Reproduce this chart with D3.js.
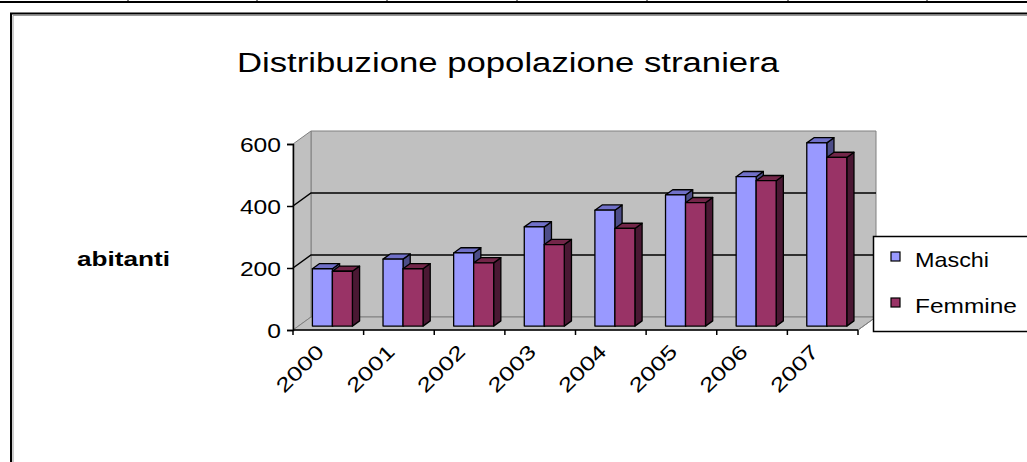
<!DOCTYPE html>
<html>
<head>
<meta charset="utf-8">
<script src="https://cdn.jsdelivr.net/npm/d3@7"></script>
<style>
  body { margin: 0; background: #fff; }
  svg { display: block; font-family: "Liberation Sans", Arial, sans-serif; }
</style>
</head>
<body>
<div class="chart"></div>
<script>
(function() {
    // data
    var years = ["2000", "2001", "2002", "2003", "2004", "2005", "2006", "2007"];
    var maschi = [185, 216, 236, 320, 374, 423, 482, 591];
    var femmine = [177, 185, 204, 263, 315, 398, 469, 544];
    var seriesNames = ["Maschi", "Femmine"];
    var yTicks = [0, 200, 400, 600];
    var cellTicks = [128, 257, 387, 517, 647, 788, 927];

    var width = 1027,
        height = 462;

    // 3D look: depth offset of the walls
    var DX = 18, DY = -13;
    var zFront = 0.3, zBack = 0.7;

    var colors = {
        Maschi:  { front: "#9999ff", top: "#7070c8", side: "#4d4d88" },
        Femmine: { front: "#993366", top: "#732649", side: "#4a1833" }
    };

    var svg = d3.select(".chart").append("svg")
        .attr("width", width)
        .attr("height", height);

    // table lines at the very top
    svg.append("line")
        .attr("x1", 0).attr("x2", width)
        .attr("y1", 2).attr("y2", 2)
        .attr("stroke", "#000").attr("stroke-width", 2);
    svg.selectAll("line.cell")
        .data(cellTicks)
        .enter().append("line")
        .attr("class", "cell")
        .attr("x1", function(d) { return d; })
        .attr("x2", function(d) { return d; })
        .attr("y1", 0).attr("y2", 3)
        .attr("stroke", "#000");

    // chart frame
    svg.append("path")
        .attr("d", "M11,470 L11,13.5 L1040,13.5")
        .attr("fill", "none").attr("stroke", "#000").attr("stroke-width", 2);
    svg.append("path")
        .attr("d", "M13,470 L13,15.5 L1040,15.5")
        .attr("fill", "none").attr("stroke", "#999").attr("stroke-width", 1);

    // title
    svg.append("text")
        .attr("x", 237).attr("y", 72)
        .attr("font-size", 27)
        .attr("textLength", 542)
        .attr("lengthAdjust", "spacingAndGlyphs")
        .text("Distribuzione popolazione straniera");

    // axis title
    svg.append("text")
        .attr("x", 77).attr("y", 266)
        .attr("font-size", 20)
        .attr("font-weight", "bold")
        .attr("textLength", 93)
        .attr("lengthAdjust", "spacingAndGlyphs")
        .text("abitanti");

    // scales (front plane)
    var x = d3.scaleBand()
        .domain(years)
        .range([293, 858]);

    var xInner = d3.scaleBand()
        .domain(seriesNames)
        .range([14, 54]);

    var y = d3.scaleLinear()
        .domain([0, 600])
        .range([330, 144]);

    function P(px, v, z) {
        return [px + z * DX, y(v) + z * DY];
    }
    function poly(pts) {
        return "M" + pts.map(function(p) { return p[0] + "," + p[1]; }).join("L") + "Z";
    }

    var x0 = x.range()[0], x1 = x.range()[1];
    var walls = svg.append("g");

    // back wall
    walls.append("path")
        .attr("d", poly([P(x0, 0, 1), P(x1, 0, 1), P(x1, 600, 1), P(x0, 600, 1)]))
        .attr("fill", "#c0c0c0").attr("stroke", "#808080");
    // side wall
    walls.append("path")
        .attr("d", poly([P(x0, 0, 0), P(x0, 0, 1), P(x0, 600, 1), P(x0, 600, 0)]))
        .attr("fill", "#c0c0c0").attr("stroke", "#808080");
    // floor
    walls.append("path")
        .attr("d", poly([P(x0, 0, 0), P(x1, 0, 0), P(x1, 0, 1), P(x0, 0, 1)]))
        .attr("fill", "#c0c0c0").attr("stroke", "#808080");

    // gridlines
    var grid = yTicks.filter(function(d) { return d > 0 && d < 600; });
    walls.selectAll("path.grid")
        .data(grid)
        .enter().append("path")
        .attr("class", "grid")
        .attr("d", function(d) {
            var a = P(x0, d, 0), b = P(x0, d, 1), c = P(x1, d, 1);
            return "M" + a + "L" + b + "L" + c;
        })
        .attr("fill", "none").attr("stroke", "#000").attr("stroke-width", 1.5);

    // bars
    var rows = years.map(function(yr, i) {
        return { year: yr, values: [
            { name: "Maschi", value: maschi[i] },
            { name: "Femmine", value: femmine[i] }
        ] };
    });

    var bars = svg.append("g").selectAll("g")
        .data(rows)
        .enter().append("g")
        .selectAll("g")
        .data(function(d) {
            return d.values.map(function(v) { return { year: d.year, name: v.name, value: v.value }; });
        })
        .enter().append("g");

    function bx0(d) { return x(d.year) + xInner(d.name); }
    function bx1(d) { return bx0(d) + xInner.bandwidth(); }

    bars.append("path")
        .attr("d", function(d) {
            return poly([P(bx1(d), 0, zFront), P(bx1(d), 0, zBack), P(bx1(d), d.value, zBack), P(bx1(d), d.value, zFront)]);
        })
        .attr("fill", function(d) { return colors[d.name].side; })
        .attr("stroke", "#000").attr("stroke-width", 1.3).attr("stroke-linejoin", "round");
    bars.append("path")
        .attr("d", function(d) {
            return poly([P(bx0(d), d.value, zFront), P(bx1(d), d.value, zFront), P(bx1(d), d.value, zBack), P(bx0(d), d.value, zBack)]);
        })
        .attr("fill", function(d) { return colors[d.name].top; })
        .attr("stroke", "#000").attr("stroke-width", 1.3).attr("stroke-linejoin", "round");
    bars.append("path")
        .attr("d", function(d) {
            return poly([P(bx0(d), 0, zFront), P(bx1(d), 0, zFront), P(bx1(d), d.value, zFront), P(bx0(d), d.value, zFront)]);
        })
        .attr("fill", function(d) { return colors[d.name].front; })
        .attr("stroke", "#000").attr("stroke-width", 1.3).attr("stroke-linejoin", "round");

    // y axis
    var yAxis = svg.append("g")
        .attr("transform", "translate(" + x0 + ",0)")
        .call(d3.axisLeft(y).tickValues(yTicks).tickSize(6).tickPadding(6).tickFormat(d3.format("d")));
    yAxis.select(".domain").attr("stroke", "#000").attr("stroke-width", 1.5);
    yAxis.selectAll(".tick line").attr("stroke", "#000").attr("stroke-width", 1.5);
    yAxis.selectAll(".tick text")
        .attr("font-family", "Liberation Sans, Arial, sans-serif")
        .attr("font-size", 21)
        .attr("fill", "#000")
        .attr("dy", "0.36em")
        .attr("textLength", function(d) { return String(d).length * 13.7; })
        .attr("lengthAdjust", "spacingAndGlyphs");

    // x axis
    var xAxis = svg.append("g")
        .attr("transform", "translate(0," + y(0) + ")");
    xAxis.append("line")
        .attr("x1", x0).attr("x2", x1)
        .attr("stroke", "#000").attr("stroke-width", 1.5);
    xAxis.selectAll("line.xt")
        .data(years.concat(["end"]))
        .enter().append("line")
        .attr("class", "xt")
        .attr("x1", function(d) { return d === "end" ? x1 : x(d); })
        .attr("x2", function(d) { return d === "end" ? x1 : x(d); })
        .attr("y1", 0).attr("y2", 5)
        .attr("stroke", "#000").attr("stroke-width", 1.5);
    xAxis.selectAll("text")
        .data(years)
        .enter().append("text")
        .attr("transform", function(d) {
            return "translate(" + (x(d) + x.bandwidth() / 2 - 8) + ",18) rotate(-45)";
        })
        .attr("text-anchor", "end")
        .attr("dy", "0.35em")
        .attr("font-size", 20)
        .attr("textLength", 58)
        .attr("lengthAdjust", "spacingAndGlyphs")
        .text(function(d) { return d; });

    // right floor edge
    svg.append("path")
        .attr("d", "M" + P(x1, 0, 0) + "L" + P(x1, 0, 1))
        .attr("stroke", "#808080").attr("fill", "none");

    // legend
    var legend = svg.append("g");
    legend.append("rect")
        .attr("x", 873.5).attr("y", 236.5)
        .attr("width", 200).attr("height", 95)
        .attr("fill", "#fff").attr("stroke", "#000").attr("stroke-width", 1.5);
    var li = legend.selectAll("g")
        .data(seriesNames)
        .enter().append("g")
        .attr("transform", function(d, i) { return "translate(891," + (252 + i * 46) + ")"; });
    li.append("rect")
        .attr("width", 9).attr("height", 9)
        .attr("fill", function(d) { return colors[d].front; })
        .attr("stroke", "#000").attr("stroke-width", 1.2);
    li.append("text")
        .attr("x", 24).attr("y", 14.5)
        .attr("font-size", 21)
        .attr("textLength", function(d) { return d === "Maschi" ? 74 : 102; })
        .attr("lengthAdjust", "spacingAndGlyphs")
        .text(function(d) { return d; });
})();
</script>
</body>
</html>
